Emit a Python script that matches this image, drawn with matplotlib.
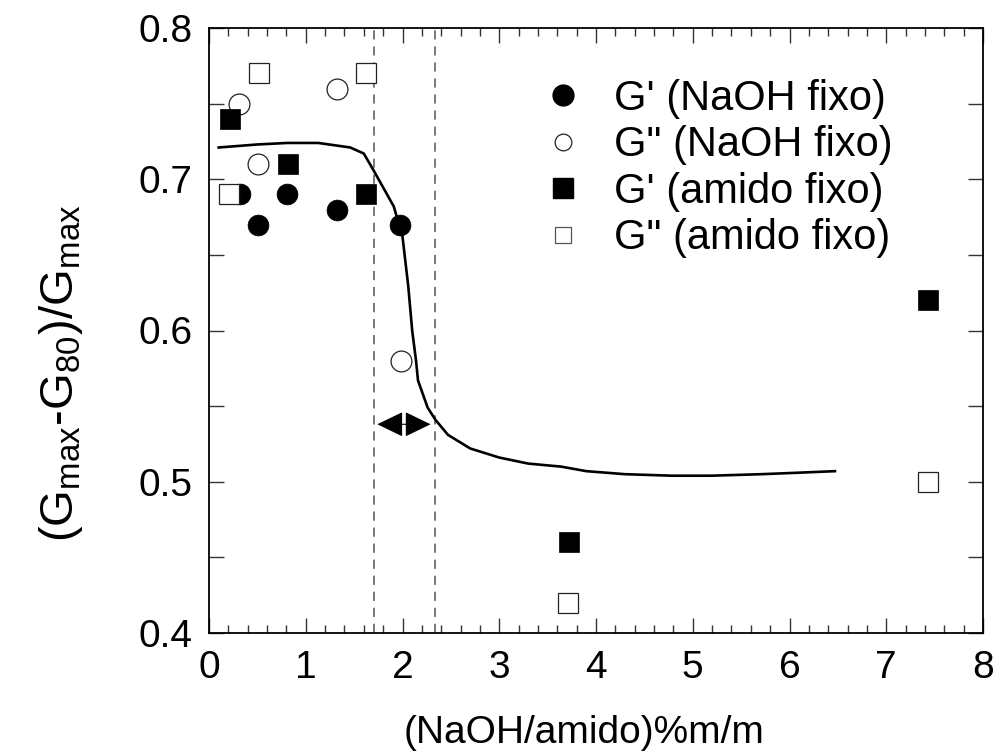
import matplotlib
matplotlib.use("Agg")
import matplotlib.pyplot as plt
from matplotlib.ticker import MultipleLocator
from matplotlib.lines import Line2D

plt.rcParams['font.family'] = ['Liberation Sans', 'DejaVu Sans']
plt.rcParams['mathtext.fontset'] = 'custom'
plt.rcParams['mathtext.rm'] = 'Liberation Sans'
plt.rcParams['mathtext.it'] = 'Liberation Sans'

# G' (NaOH fixo)  - filled circles
gp_naoh_x = [0.32, 0.51, 0.81, 1.32, 1.97]
gp_naoh_y = [0.69, 0.67, 0.69, 0.68, 0.67]
# G" (NaOH fixo)  - open circles
gpp_naoh_x = [0.31, 0.51, 1.32, 1.98]
gpp_naoh_y = [0.75, 0.71, 0.76, 0.58]
# G' (amido fixo) - filled squares
gp_amido_x = [0.22, 0.82, 1.62, 3.72, 7.43]
gp_amido_y = [0.74, 0.71, 0.69, 0.46, 0.62]
# G" (amido fixo) - open squares
gpp_amido_x = [0.21, 0.52, 1.62, 3.71, 7.43]
gpp_amido_y = [0.69, 0.77, 0.77, 0.42, 0.50]

# trend curve
curve_x = [0.10, 0.50, 0.81, 1.13, 1.46, 1.60, 1.70, 1.91, 2.00, 2.06, 2.10,
           2.14, 2.16, 2.26, 2.34, 2.47, 2.70, 3.00, 3.30, 3.64, 3.90, 4.30,
           4.78, 5.19, 5.71, 6.10, 6.47]
curve_y = [0.721, 0.723, 0.724, 0.724, 0.721, 0.717, 0.706, 0.682, 0.662,
           0.629, 0.600, 0.580, 0.567, 0.549, 0.541, 0.531, 0.522, 0.516,
           0.512, 0.510, 0.507, 0.505, 0.504, 0.504, 0.505, 0.506, 0.507]

# transition region (dashed lines) and arrow
dash_x = [1.71, 2.34]
arrow_x = [1.74, 2.29]
arrow_y = 0.538

legend_labels = ["G' (NaOH fixo)", 'G" (NaOH fixo)', "G' (amido fixo)", 'G" (amido fixo)']

fig = plt.figure(figsize=(9.94, 7.56), dpi=100)
ax = fig.add_axes([209/994, 1-633/756, (983-209)/994, (633-28)/756])

for xv in dash_x:
    ax.axvline(xv, color='#555555', lw=1.1, dashes=(6, 4.5), zorder=1)

ax.plot(curve_x, curve_y, color='black', lw=1.9, zorder=2)

ms_c = 15
ax.plot(gp_naoh_x, gp_naoh_y, 'o', ms=ms_c, mfc='black', mec='black', mew=0.5, ls='none', zorder=3)
ax.plot(gpp_naoh_x, gpp_naoh_y, 'o', ms=ms_c, mfc='white', mec='#222222', mew=0.9, ls='none', zorder=3.1)
ax.plot(gp_amido_x, gp_amido_y, 's', ms=ms_c, mfc='black', mec='black', mew=0.5, ls='none', zorder=3.2)
ax.plot(gpp_amido_x, gpp_amido_y, 's', ms=ms_c-1, mfc='white', mec='#222222', mew=0.9, ls='none', zorder=3.3)

ax.annotate('', xy=(arrow_x[0], arrow_y), xytext=(arrow_x[1], arrow_y),
            arrowprops=dict(arrowstyle='<|-|>,head_length=1.65,head_width=0.8',
                            mutation_scale=10, lw=0.8, color='black',
                            shrinkA=0, shrinkB=0), zorder=5)

ax.set_xlim(0, 8)
ax.set_ylim(0.4, 0.8)
ax.xaxis.set_major_locator(MultipleLocator(1))
ax.xaxis.set_minor_locator(MultipleLocator(0.2))
ax.yaxis.set_major_locator(MultipleLocator(0.1))
ax.yaxis.set_minor_locator(MultipleLocator(0.05))
ax.set_yticks([0.4, 0.5, 0.6, 0.7, 0.8])
ax.set_yticklabels(['0.4', '0.5', '0.6', '0.7', '0.8'])

ax.tick_params(axis='both', which='both', direction='in', top=True, right=True,
               labelsize=28, pad=12, width=1.0, color='#333333')
ax.tick_params(axis='x', which='major', length=11)
ax.tick_params(axis='x', which='minor', length=5.5)
ax.tick_params(axis='y', which='both', length=11)
for s in ax.spines.values():
    s.set_linewidth(1.3)

ax.set_xlabel('(NaOH/amido)%m/m', fontsize=28)
ax.xaxis.set_label_coords(0.485, -0.135)
ax.set_ylabel(r'(G$_{\mathrm{max}}$-G$_{80}$)/G$_{\mathrm{max}}$', fontsize=34)
ax.yaxis.set_label_coords(-0.16, 0.43)

handles = [
    Line2D([], [], marker='o', ls='none', ms=15, mfc='black', mec='black'),
    Line2D([], [], marker='o', ls='none', ms=12, mfc='white', mec='#222222', mew=0.9),
    Line2D([], [], marker='s', ls='none', ms=15, mfc='black', mec='black'),
    Line2D([], [], marker='s', ls='none', ms=12, mfc='white', mec='#555555', mew=0.9),
]
leg = ax.legend(handles, legend_labels, loc='upper left', bbox_to_anchor=(0.430, 0.916),
                frameon=False, fontsize=30, handlelength=1.0, handletextpad=0.73,
                labelspacing=0.155, borderaxespad=0, borderpad=0)

fig.savefig('out.png', dpi=100)
